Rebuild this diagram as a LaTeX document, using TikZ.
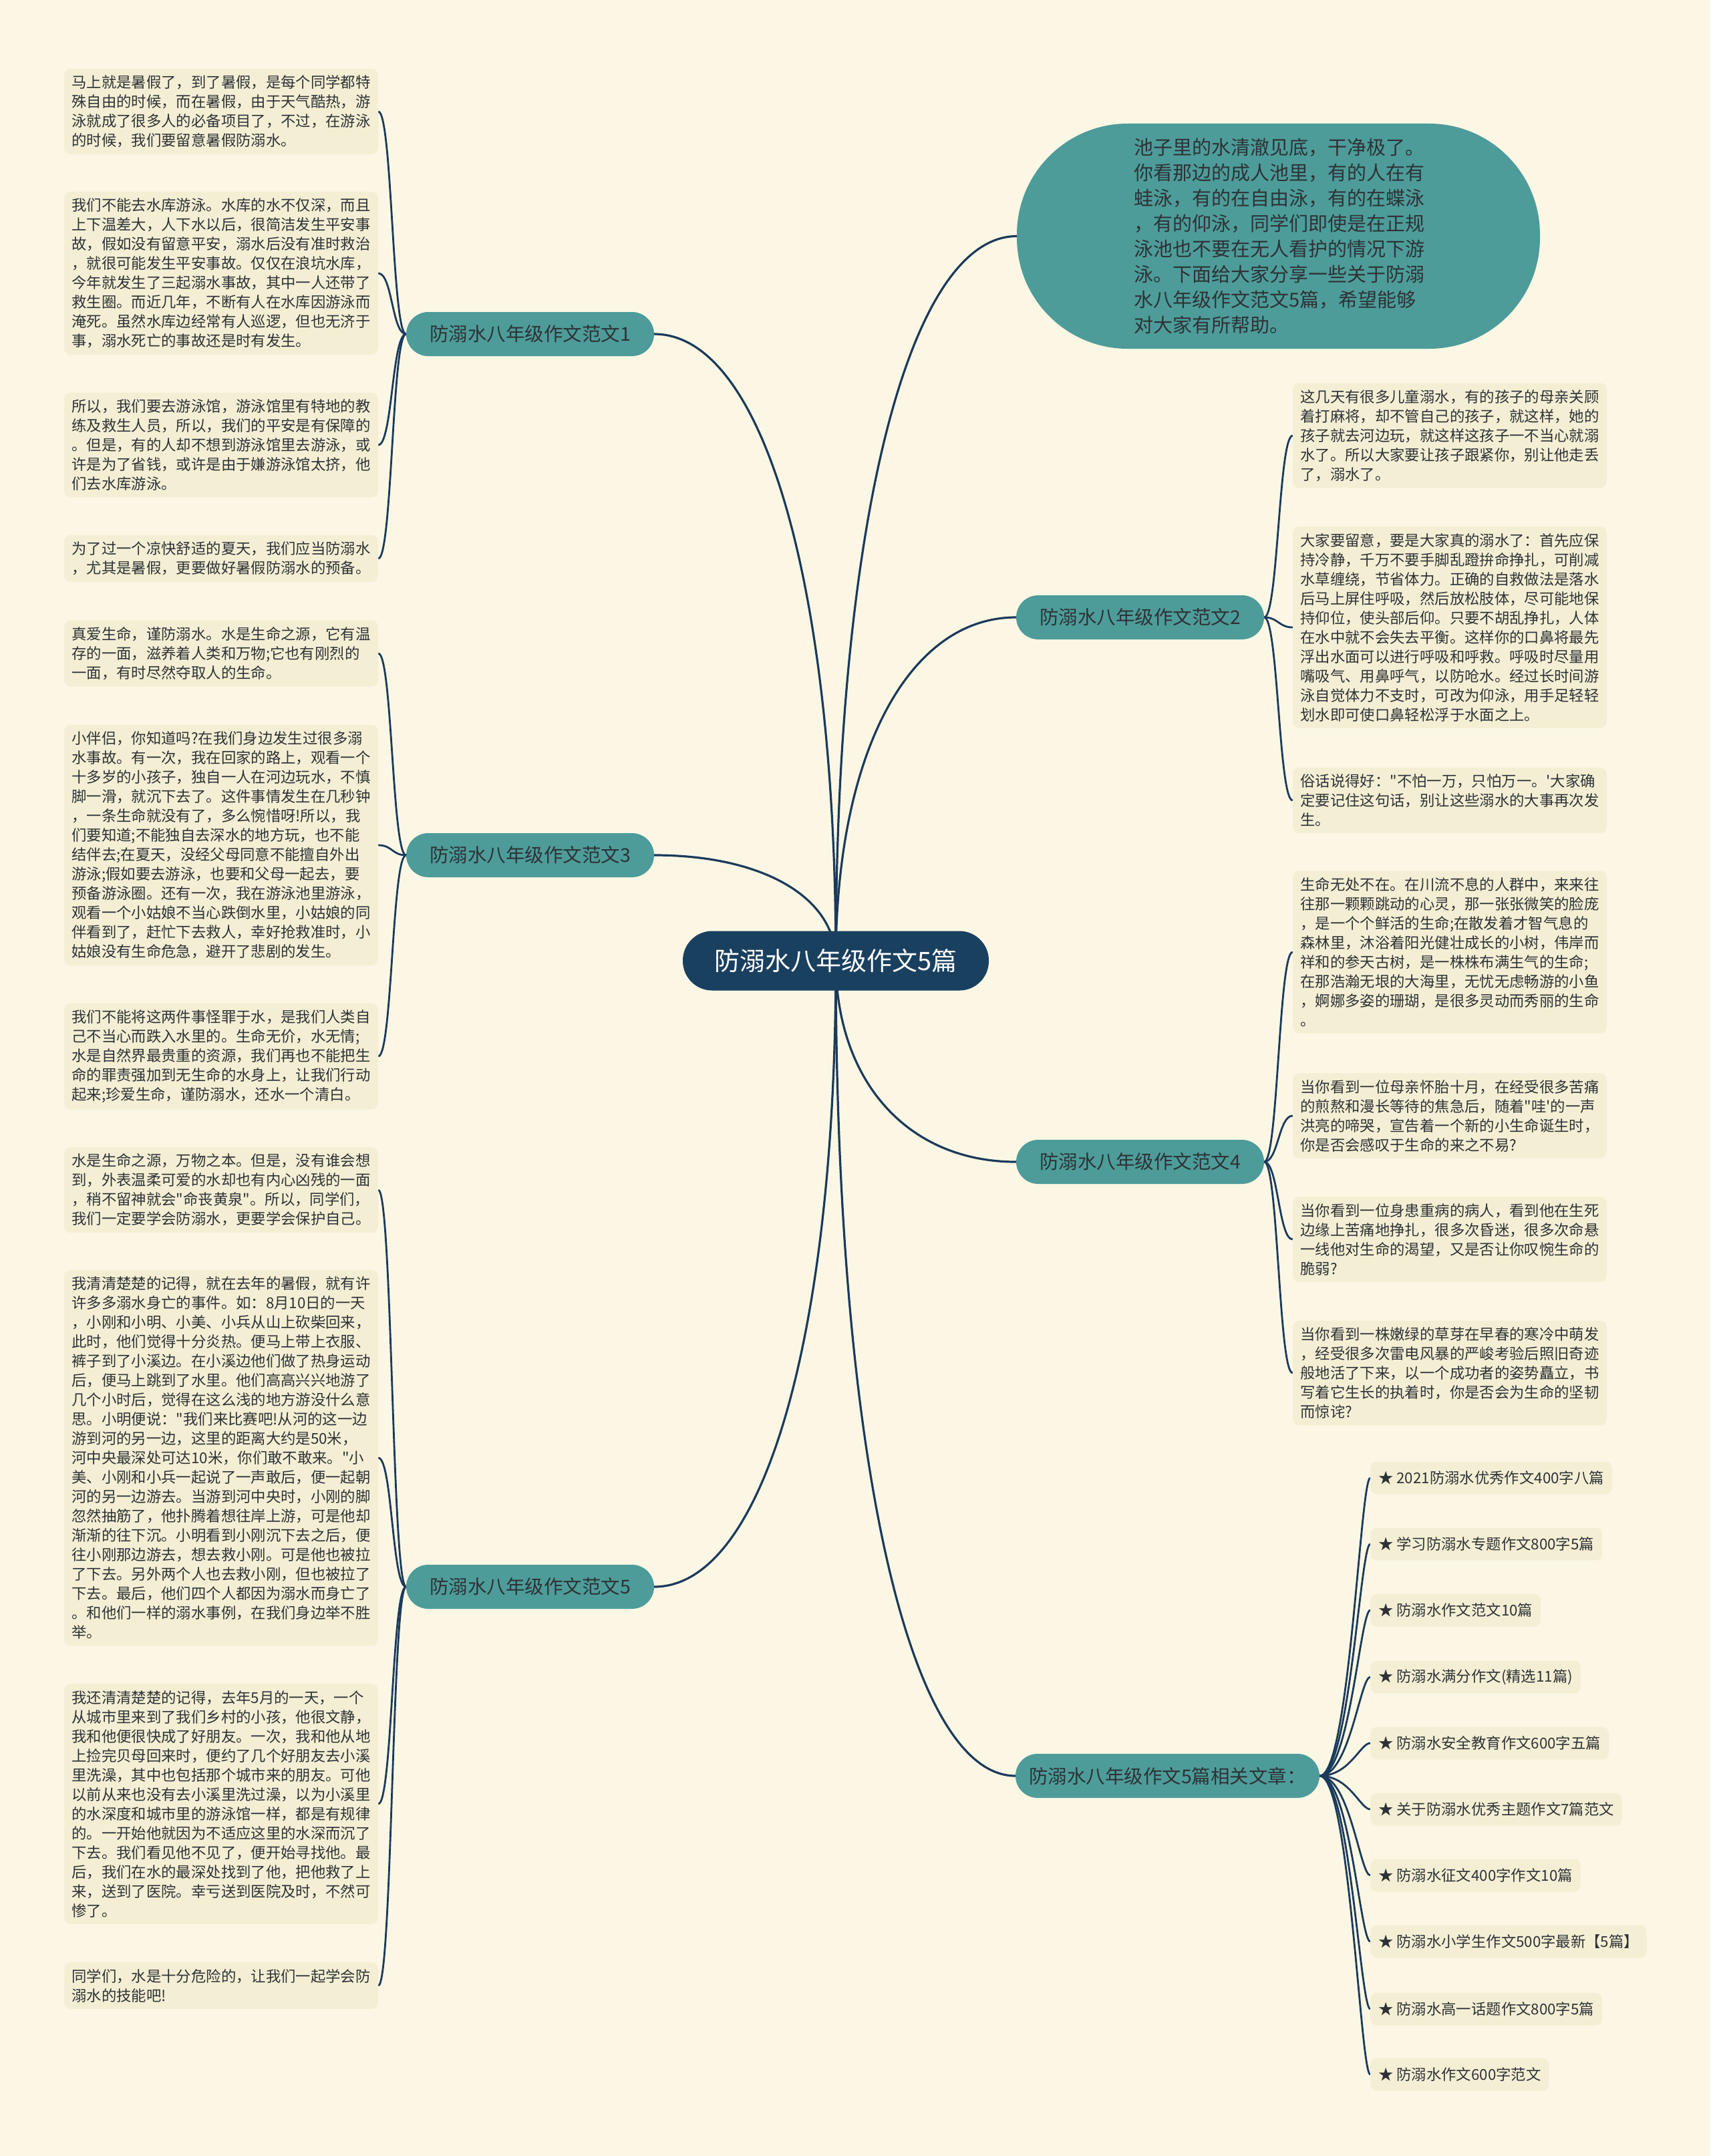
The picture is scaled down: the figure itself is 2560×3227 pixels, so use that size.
\documentclass[tikz,border=0pt]{standalone}
\usepackage{fontspec}
\newfontfamily\cjk{Noto Sans CJK SC}
\usetikzlibrary{calc}
\definecolor{bgc}{HTML}{FBF7E4}
\definecolor{leafc}{HTML}{F4EFD4}
\definecolor{tealc}{HTML}{4D9C9A}
\definecolor{navyc}{HTML}{1A4060}
\definecolor{linec}{HTML}{1B3A5B}
\definecolor{txtc}{HTML}{2E3236}
\pgfdeclarelayer{bgl}
\pgfdeclarelayer{lnl}
\pgfsetlayers{bgl,lnl,main}
\tikzset{
  leaf/.style={font=\cjk\fontsize{22.35}{29}\selectfont, text=txtc, fill=leafc, rounded corners=10pt,
    text width=447pt, align=left, inner xsep=11.5pt, inner ysep=10pt},
  item/.style={font=\cjk\fontsize{22.35}{29}\selectfont, text=txtc, fill=leafc, rounded corners=10pt,
    minimum height=49pt, inner xsep=12pt, anchor=west},
  branch/.style={fill=tealc, text=txtc, font=\cjk\fontsize{28.5}{34}\selectfont, minimum height=66pt,
    minimum width=371pt, rounded corners=33pt, inner xsep=0pt},
  ctrnode/.style={fill=navyc, text=white, font=\cjk\fontsize{38}{44}\selectfont, minimum width=458pt,
    minimum height=89pt, rounded corners=44pt},
  bubble/.style={fill=tealc, rounded corners=166pt, minimum width=783pt, minimum height=337pt,
    text width=433pt, align=left, font=\cjk\fontsize{29}{38}\selectfont, text=txtc, inner sep=0pt},
  mline/.style={draw=linec, line width=3.2pt},
  cline/.style={draw=linec, line width=2.8pt},
}
\newcommand\mainlink[1]{\draw[mline] (ctr.center) .. controls ($(ctr.center)!0.6!(ctr.center|-#1)$) and ($(#1)!0.6!(ctr.center|-#1)$) .. (#1);}
\newcommand\leftlink[2]{\draw[cline] (#1.west) .. controls +(-21,0) and +(21,0) .. (#2.east);}
\newcommand\rightlink[4]{\draw[cline] (#1.east) .. controls +(#3,0) and +(-#4,0) .. (#2.west);}
\begin{document}
\begin{tikzpicture}[x=1pt,y=-1pt]
\begin{pgfonlayer}{bgl}
\fill[bgc] (0,0) rectangle (2560,3227);
\end{pgfonlayer}
\useasboundingbox (0,0) rectangle (2560,3227);

% centre
\node[ctrnode] (ctr) at (1251,1438) {防溺水八年级作文5篇};

% bubble
\node[bubble] (intro) at (1913.5,353.5) {池子里的水清澈见底，干净极了。\\你看那边的成人池里，有的人在有\\蛙泳，有的在自由泳，有的在蝶泳\\，有的仰泳，同学们即使是在正规\\泳池也不要在无人看护的情况下游\\泳。下面给大家分享一些关于防溺\\水八年级作文范文5篇，希望能够\\对大家有所帮助。};

% branches
\node[branch] (b1) at (793.5,500) {防溺水八年级作文范文1};
\node[branch] (b3) at (793.5,1280) {防溺水八年级作文范文3};
\node[branch] (b5) at (793.5,2375) {防溺水八年级作文范文5};
\node[branch] (b2) at (1706.5,924) {防溺水八年级作文范文2};
\node[branch] (b4) at (1706.5,1739) {防溺水八年级作文范文4};
\node[branch, minimum width=455pt] (rel) at (1747.5,2658) {防溺水八年级作文5篇相关文章：};

% left leaves, branch 1
\node[leaf] (l1a) at (331,167) {马上就是暑假了，到了暑假，是每个同学都特\\殊自由的时候，而在暑假，由于天气酷热，游\\泳就成了很多人的必备项目了，不过，在游泳\\的时候，我们要留意暑假防溺水。};
\node[leaf] (l1b) at (331,409) {我们不能去水库游泳。水库的水不仅深，而且\\上下温差大，人下水以后，很简洁发生平安事\\故，假如没有留意平安，溺水后没有准时救治\\，就很可能发生平安事故。仅仅在浪坑水库，\\今年就发生了三起溺水事故，其中一人还带了\\救生圈。而近几年，不断有人在水库因游泳而\\淹死。虽然水库边经常有人巡逻，但也无济于\\事，溺水死亡的事故还是时有发生。};
\node[leaf] (l1c) at (331,666) {所以，我们要去游泳馆，游泳馆里有特地的教\\练及救生人员，所以，我们的平安是有保障的\\。但是，有的人却不想到游泳馆里去游泳，或\\许是为了省钱，或许是由于嫌游泳馆太挤，他\\们去水库游泳。};
\node[leaf] (l1d) at (331,836) {为了过一个凉快舒适的夏天，我们应当防溺水\\，尤其是暑假，更要做好暑假防溺水的预备。};

% branch 3
\node[leaf] (l3a) at (331,978) {真爱生命，谨防溺水。水是生命之源，它有温\\存的一面，滋养着人类和万物;它也有刚烈的\\一面，有时尽然夺取人的生命。};
\node[leaf] (l3b) at (331,1265) {小伴侣，你知道吗?在我们身边发生过很多溺\\水事故。有一次，我在回家的路上，观看一个\\十多岁的小孩子，独自一人在河边玩水，不慎\\脚一滑，就沉下去了。这件事情发生在几秒钟\\，一条生命就没有了，多么惋惜呀!所以，我\\们要知道;不能独自去深水的地方玩，也不能\\结伴去;在夏天，没经父母同意不能擅自外出\\游泳;假如要去游泳，也要和父母一起去，要\\预备游泳圈。还有一次，我在游泳池里游泳，\\观看一个小姑娘不当心跌倒水里，小姑娘的同\\伴看到了，赶忙下去救人，幸好抢救准时，小\\姑娘没有生命危急，避开了悲剧的发生。};
\node[leaf] (l3c) at (331,1581) {我们不能将这两件事怪罪于水，是我们人类自\\己不当心而跌入水里的。生命无价，水无情;\\水是自然界最贵重的资源，我们再也不能把生\\命的罪责强加到无生命的水身上，让我们行动\\起来;珍爱生命，谨防溺水，还水一个清白。};

% branch 5
\node[leaf] (l5a) at (331,1781) {水是生命之源，万物之本。但是，没有谁会想\\到，外表温柔可爱的水却也有内心凶残的一面\\，稍不留神就会"命丧黄泉"。所以，同学们，\\我们一定要学会防溺水，更要学会保护自己。};
\node[leaf] (l5b) at (331,2182) {我清清楚楚的记得，就在去年的暑假，就有许\\许多多溺水身亡的事件。如：8月10日的一天\\，小刚和小明、小美、小兵从山上砍柴回来，\\此时，他们觉得十分炎热。便马上带上衣服、\\裤子到了小溪边。在小溪边他们做了热身运动\\后，便马上跳到了水里。他们高高兴兴地游了\\几个小时后，觉得在这么浅的地方游没什么意\\思。小明便说："我们来比赛吧!从河的这一边\\游到河的另一边，这里的距离大约是50米，\\河中央最深处可达10米，你们敢不敢来。"小\\美、小刚和小兵一起说了一声敢后，便一起朝\\河的另一边游去。当游到河中央时，小刚的脚\\忽然抽筋了，他扑腾着想往岸上游，可是他却\\渐渐的往下沉。小明看到小刚沉下去之后，便\\往小刚那边游去，想去救小刚。可是他也被拉\\了下去。另外两个人也去救小刚，但也被拉了\\下去。最后，他们四个人都因为溺水而身亡了\\。和他们一样的溺水事例，在我们身边举不胜\\举。};
\node[leaf] (l5c) at (331,2700) {我还清清楚楚的记得，去年5月的一天，一个\\从城市里来到了我们乡村的小孩，他很文静，\\我和他便很快成了好朋友。一次，我和他从地\\上捡完贝母回来时，便约了几个好朋友去小溪\\里洗澡，其中也包括那个城市来的朋友。可他\\以前从来也没有去小溪里洗过澡，以为小溪里\\的水深度和城市里的游泳馆一样，都是有规律\\的。一开始他就因为不适应这里的水深而沉了\\下去。我们看见他不见了，便开始寻找他。最\\后，我们在水的最深处找到了他，把他救了上\\来，送到了医院。幸亏送到医院及时，不然可\\惨了。};
\node[leaf] (l5d) at (331,2972) {同学们，水是十分危险的，让我们一起学会防\\溺水的技能吧!};

% right leaves, branch 2
\node[leaf] (r2a) at (2170,652) {这几天有很多儿童溺水，有的孩子的母亲关顾\\着打麻将，却不管自己的孩子，就这样，她的\\孩子就去河边玩，就这样这孩子一不当心就溺\\水了。所以大家要让孩子跟紧你，别让他走丢\\了，溺水了。};
\node[leaf] (r2b) at (2170,939) {大家要留意，要是大家真的溺水了：首先应保\\持冷静，千万不要手脚乱蹬拚命挣扎，可削减\\水草缠绕，节省体力。正确的自救做法是落水\\后马上屏住呼吸，然后放松肢体，尽可能地保\\持仰位，使头部后仰。只要不胡乱挣扎，人体\\在水中就不会失去平衡。这样你的口鼻将最先\\浮出水面可以进行呼吸和呼救。呼吸时尽量用\\嘴吸气、用鼻呼气，以防呛水。经过长时间游\\泳自觉体力不支时，可改为仰泳，用手足轻轻\\划水即可使口鼻轻松浮于水面之上。};
\node[leaf] (r2c) at (2170,1198) {俗话说得好："不怕一万，只怕万一。'大家确\\定要记住这句话，别让这些溺水的大事再次发\\生。};

% branch 4
\node[leaf] (r4a) at (2170,1425) {生命无处不在。在川流不息的人群中，来来往\\往那一颗颗跳动的心灵，那一张张微笑的脸庞\\，是一个个鲜活的生命;在散发着才智气息的\\森林里，沐浴着阳光健壮成长的小树，伟岸而\\祥和的参天古树，是一株株布满生气的生命;\\在那浩瀚无垠的大海里，无忧无虑畅游的小鱼\\，婀娜多姿的珊瑚，是很多灵动而秀丽的生命\\。};
\node[leaf] (r4b) at (2170,1670) {当你看到一位母亲怀胎十月，在经受很多苦痛\\的煎熬和漫长等待的焦急后，随着"哇'的一声\\洪亮的啼哭，宣告着一个新的小生命诞生时，\\你是否会感叹于生命的来之不易?};
\node[leaf] (r4c) at (2170,1855) {当你看到一位身患重病的病人，看到他在生死\\边缘上苦痛地挣扎，很多次昏迷，很多次命悬\\一线他对生命的渴望，又是否让你叹惋生命的\\脆弱?};
\node[leaf] (r4d) at (2170,2055) {当你看到一株嫩绿的草芽在早春的寒冷中萌发\\，经受很多次雷电风暴的严峻考验后照旧奇迹\\般地活了下来，以一个成功者的姿势矗立，书\\写着它生长的执着时，你是否会为生命的坚韧\\而惊诧?};

% related list
\node[item] (k1) at (2051,2212) {★ 2021防溺水优秀作文400字八篇};
\node[item] (k2) at (2051,2311) {★ 学习防溺水专题作文800字5篇};
\node[item] (k3) at (2051,2410) {★ 防溺水作文范文10篇};
\node[item] (k4) at (2051,2510) {★ 防溺水满分作文(精选11篇)};
\node[item] (k5) at (2051,2609) {★ 防溺水安全教育作文600字五篇};
\node[item] (k6) at (2051,2708) {★ 关于防溺水优秀主题作文7篇范文};
\node[item] (k7) at (2051,2807) {★ 防溺水征文400字作文10篇};
\node[item] (k8) at (2051,2906) {★ 防溺水小学生作文500字最新【5篇】};
\node[item] (k9) at (2051,3007) {★ 防溺水高一话题作文800字5篇};
\node[item] (k10) at (2051,3105) {★ 防溺水作文600字范文};

\begin{pgfonlayer}{lnl}
\mainlink{intro.west}
\mainlink{b1.east}
\mainlink{b2.west}
\mainlink{b3.east}
\mainlink{b4.west}
\mainlink{b5.east}
\mainlink{rel.west}
\foreach \c in {l1a,l1b,l1c,l1d} {\leftlink{b1}{\c}}
\foreach \c in {l3a,l3b,l3c} {\leftlink{b3}{\c}}
\foreach \c in {l5a,l5b,l5c,l5d} {\leftlink{b5}{\c}}
\foreach \c in {r2a,r2b,r2c} {\rightlink{b2}{\c}{21}{21}}
\foreach \c in {r4a,r4b,r4c,r4d} {\rightlink{b4}{\c}{21}{21}}
\foreach \c in {k1,k2,k3,k4,k5,k6,k7,k8,k9,k10} {\rightlink{rel}{\c}{45}{15}}
\end{pgfonlayer}
\end{tikzpicture}
\end{document}
